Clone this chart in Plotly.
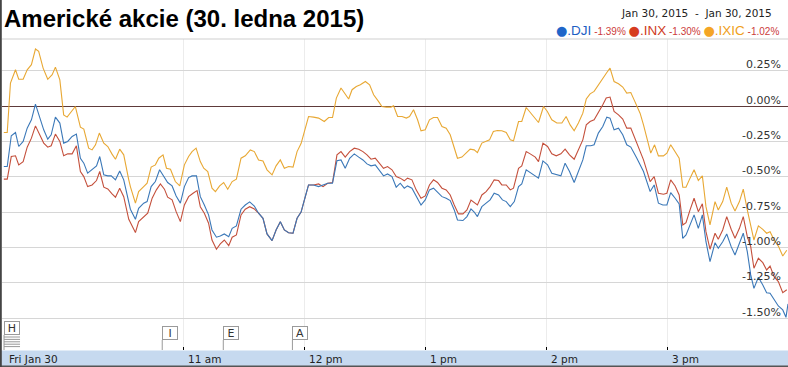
import plotly.graph_objects as go

# ---------------- data (minutes after 9:30 open, % change) ----------------
t_dji = [0.9, 2.6, 4.6, 6.7, 8.3, 10.5, 12.5, 14.6, 16.6, 18.2,
         20.7, 22.7, 24.4, 26.5, 28.7, 30.6, 32.6, 34.8, 36.9, 38.9,
         40.6, 42.5, 44.7, 46.9, 48.5, 50.5, 52.5, 54.2, 56.3, 58.4,
         60.4, 62.9, 63.7, 66.2, 67.8, 70.3, 72.0, 74.0, 76.1, 78.2,
         80.2, 82.2, 84.4, 86.4, 88.5, 90.5, 92.6, 94.3, 96.5, 98.4,
         100.4, 102.5, 104.2, 106.4, 108.3, 110.3, 112.5, 114.2, 116.3, 118.6,
         120.7, 122.9, 125.2, 127.3, 129.5, 131.5, 134.0, 136.0, 138.1, 140.1,
         142.2, 144.4, 146.4, 148.4, 150.5, 152.1, 154.6, 157.1, 159.3, 161.6,
         164.0, 166.2, 168.2, 170.3, 172.5, 174.8, 177.0, 179.1, 181.1, 183.1,
         185.2, 187.3, 189.3, 191.3, 193.5, 195.6, 197.6, 199.6, 201.2, 203.4,
         205.5, 207.9, 210.0, 212.1, 214.1, 216.1, 218.3, 220.4, 222.4, 224.4,
         226.0, 228.7, 230.7, 232.7, 234.3, 235.9, 238.1, 240.2, 242.2, 244.2,
         246.4, 248.3, 250.2, 252.2, 254.2, 256.3, 257.9, 260.1, 262.1, 264.1,
         266.2, 268.4, 270.7, 272.8, 275.0, 277.3, 279.4, 281.6, 283.9, 286.0,
         288.2, 289.9, 292.2, 293.8, 295.9, 298.1, 300.1, 301.7, 303.7, 305.9,
         308.0, 310.0, 312.0, 315.0, 318.3, 321.6, 323.6, 325.7, 327.9, 329.9,
         331.8, 334.0, 336.0, 337.8, 339.4, 341.4, 343.4, 345.5, 347.5, 349.3,
         351.3, 353.8, 355.4, 357.6, 359.6, 361.8, 363.7, 365.9, 367.8, 369.8,
         371.5, 373.1, 375.3, 377.5, 379.4, 381.1, 383.1, 385.2, 387.4, 389.0,
         390.0]
v_dji = [-0.428, -0.428, -0.21, -0.187, -0.286, -0.25, -0.156, -0.097, 0.014, -0.055,
         -0.168, -0.234, -0.203, -0.078, -0.12, -0.262, -0.25, -0.215, -0.198, -0.369,
         -0.404, -0.475, -0.451, -0.423, -0.357, -0.487, -0.494, -0.494, -0.522, -0.459,
         -0.522, -0.7, -0.73, -0.801, -0.723, -0.687, -0.676, -0.57, -0.534, -0.451,
         -0.494, -0.541, -0.565, -0.636, -0.687, -0.57, -0.506, -0.494, -0.494, -0.641,
         -0.7, -0.77, -0.877, -0.928, -0.919, -0.905, -0.924, -0.865, -0.848, -0.73,
         -0.7, -0.678, -0.707, -0.758, -0.794, -0.905, -0.952, -0.877, -0.818, -0.877,
         -0.896, -0.9, -0.794, -0.75, -0.64, -0.558, -0.558, -0.57, -0.558, -0.546,
         -0.546, -0.386, -0.381, -0.44, -0.369, -0.338, -0.361, -0.381, -0.409, -0.423,
         -0.416, -0.456, -0.494, -0.48, -0.499, -0.574, -0.546, -0.581, -0.565, -0.581,
         -0.636, -0.7, -0.664, -0.593, -0.581, -0.612, -0.641, -0.652, -0.669, -0.735,
         -0.806, -0.81, -0.782, -0.728, -0.75, -0.782, -0.712, -0.687, -0.664, -0.617,
         -0.629, -0.664, -0.676, -0.712, -0.676, -0.57, -0.551, -0.451, -0.47, -0.487,
         -0.51, -0.388, -0.416, -0.475, -0.487, -0.494, -0.404, -0.463, -0.541, -0.463,
         -0.381, -0.281, -0.281, -0.274, -0.191, -0.145, -0.078, -0.085, -0.168, -0.156,
         -0.203, -0.274, -0.29, -0.369, -0.463, -0.605, -0.558, -0.687, -0.7, -0.7,
         -0.612, -0.652, -0.692, -0.936, -0.912, -0.841, -0.77, -0.865, -0.77, -0.96,
         -1.101, -0.967, -1.006, -0.96, -0.905, -0.995, -1.054, -0.971, -0.9, -1.03,
         -1.195, -1.29, -1.212, -1.267, -1.321, -1.325, -1.373, -1.415, -1.443, -1.495,
         -1.40]

t_inx = [0.9, 2.6, 4.6, 6.7, 8.3, 10.5, 12.5, 14.6, 16.6, 18.7,
         20.7, 22.7, 24.4, 26.5, 28.7, 30.6, 32.6, 34.8, 36.9, 38.9,
         40.6, 42.5, 44.7, 46.9, 48.5, 50.5, 52.5, 54.6, 56.3, 58.4,
         60.4, 62.9, 63.7, 66.2, 67.8, 70.3, 72.3, 74.5, 76.6, 78.6,
         80.6, 82.2, 84.4, 86.4, 88.5, 90.5, 92.6, 94.8, 96.8, 98.4,
         100.4, 102.5, 104.2, 106.4, 108.3, 110.3, 112.5, 114.2, 116.3, 118.6,
         120.7, 122.9, 125.2, 127.3, 129.5, 131.5, 134.0, 136.0, 138.1, 140.1,
         142.2, 144.4, 146.4, 148.4, 150.5, 152.1, 154.6, 157.1, 159.3, 161.6,
         164.0, 166.2, 168.2, 170.3, 172.5, 174.8, 177.0, 179.1, 181.1, 183.1,
         185.2, 187.3, 189.3, 191.3, 193.5, 195.6, 197.6, 199.6, 201.2, 203.4,
         205.5, 207.9, 210.0, 212.1, 214.1, 216.1, 218.3, 220.4, 222.4, 224.4,
         226.5, 228.7, 230.7, 232.7, 234.8, 235.9, 238.1, 240.2, 242.2, 244.2,
         246.4, 248.0, 250.2, 252.2, 253.8, 256.3, 257.9, 260.1, 262.1, 264.6,
         266.2, 268.4, 270.7, 272.8, 275.0, 277.3, 279.4, 281.6, 283.9, 286.0,
         288.2, 289.9, 291.8, 293.8, 295.9, 298.1, 299.8, 301.7, 303.7, 305.9,
         308.0, 310.0, 312.0, 315.0, 318.3, 321.6, 323.6, 325.7, 328.2, 329.9,
         331.8, 334.0, 336.0, 337.8, 339.4, 341.4, 343.4, 345.5, 347.5, 349.3,
         351.3, 353.8, 355.4, 357.6, 359.6, 361.8, 363.7, 365.9, 367.8, 369.8,
         371.5, 373.1, 375.3, 377.5, 379.4, 381.1, 383.1, 385.2, 387.4, 389.4]
v_inx = [-0.517, -0.517, -0.357, -0.352, -0.416, -0.393, -0.291, -0.227, -0.14, -0.203,
         -0.262, -0.291, -0.281, -0.198, -0.25, -0.352, -0.338, -0.338, -0.281, -0.463,
         -0.499, -0.57, -0.558, -0.527, -0.463, -0.574, -0.586, -0.622, -0.645, -0.581,
         -0.641, -0.801, -0.825, -0.895, -0.818, -0.782, -0.758, -0.652, -0.593, -0.551,
         -0.588, -0.645, -0.664, -0.747, -0.818, -0.7, -0.641, -0.617, -0.598, -0.712,
         -0.758, -0.829, -0.948, -1.013, -0.976, -0.948, -0.988, -0.928, -0.912, -0.77,
         -0.73, -0.712, -0.728, -0.758, -0.794, -0.905, -0.952, -0.877, -0.818, -0.877,
         -0.896, -0.9, -0.794, -0.75, -0.64, -0.558, -0.558, -0.551, -0.57, -0.546,
         -0.541, -0.345, -0.322, -0.361, -0.322, -0.298, -0.305, -0.322, -0.345, -0.376,
         -0.369, -0.404, -0.44, -0.428, -0.451, -0.499, -0.51, -0.529, -0.51, -0.522,
         -0.593, -0.652, -0.636, -0.558, -0.522, -0.541, -0.581, -0.593, -0.629, -0.7,
         -0.763, -0.763, -0.735, -0.665, -0.69, -0.7, -0.629, -0.605, -0.57, -0.522,
         -0.527, -0.558, -0.558, -0.593, -0.581, -0.44, -0.423, -0.322, -0.338, -0.361,
         -0.393, -0.262, -0.286, -0.338, -0.352, -0.338, -0.305, -0.345, -0.376, -0.31,
         -0.239, -0.133, -0.109, -0.097, -0.05, 0.009, 0.057, 0.064, -0.038, -0.062,
         -0.092, -0.156, -0.156, -0.262, -0.381, -0.534, -0.499, -0.617, -0.624, -0.617,
         -0.522, -0.565, -0.629, -0.841, -0.825, -0.735, -0.652, -0.747, -0.692, -0.889,
         -1.013, -0.9, -0.943, -0.877, -0.782, -0.872, -0.936, -0.865, -0.782, -0.924,
         -0.995, -1.148, -1.077, -1.108, -1.16, -1.132, -1.207, -1.242, -1.321, -1.30]

t_ixic = [0.9, 2.6, 4.2, 6.7, 8.3, 10.5, 12.5, 14.6, 16.6, 18.2,
          20.4, 22.7, 24.9, 26.5, 28.7, 30.6, 32.3, 34.3, 36.4, 38.9,
          40.6, 43.0, 44.7, 46.4, 48.3, 50.5, 52.5, 54.6, 56.3, 58.4,
          60.4, 62.9, 63.7, 66.2, 67.8, 70.3, 72.0, 74.0, 76.1, 77.8,
          79.9, 81.6, 83.6, 86.0, 88.2, 90.5, 92.6, 94.3, 96.3, 98.4,
          100.1, 102.1, 104.2, 105.9, 108.0, 110.0, 112.0, 114.2, 116.3, 118.6,
          120.7, 123.2, 125.2, 127.3, 129.5, 131.5, 134.0, 136.0, 138.1, 140.1,
          142.2, 144.4, 146.4, 148.4, 150.5, 152.1, 154.6, 157.1, 159.9, 162.1,
          164.0, 165.9, 168.2, 170.0, 172.0, 173.7, 175.8, 177.8, 180.3, 182.4,
          184.4, 186.8, 188.5, 190.7, 193.0, 194.3, 196.3, 198.5, 200.6, 202.2,
          204.2, 206.2, 207.9, 210.0, 212.1, 214.1, 216.1, 218.3, 220.4, 222.4,
          224.0, 226.0, 228.2, 230.3, 232.3, 234.3, 235.9, 238.1, 240.2, 241.9,
          243.8, 245.8, 248.0, 250.2, 252.2, 253.8, 256.3, 257.9, 260.1, 262.1,
          264.1, 266.2, 268.7, 270.6, 272.8, 275.3, 277.8, 279.9, 281.9, 283.9,
          286.0, 288.2, 289.9, 291.8, 293.8, 295.9, 298.1, 300.1, 301.7, 303.7,
          305.9, 308.0, 310.0, 312.0, 314.1, 316.6, 318.3, 319.6, 321.9, 323.8,
          325.7, 328.2, 329.9, 331.8, 334.0, 336.0, 337.8, 339.4, 341.4, 343.4,
          345.5, 347.5, 349.3, 351.3, 353.8, 355.4, 357.6, 359.6, 361.8, 363.7,
          365.9, 367.8, 369.8, 371.2, 373.1, 375.3, 377.5, 379.4, 381.1, 383.1,
          385.2, 387.4, 389.4]
v_ixic = [-0.187, -0.187, 0.163, 0.257, 0.19, 0.19, 0.257, 0.293, 0.404, 0.387,
          0.269, 0.19, 0.222, 0.276, 0.186, -0.062, -0.078, -0.045, -0.003, -0.149,
          -0.163, -0.298, -0.31, -0.274, -0.191, -0.262, -0.286, -0.34, -0.376, -0.305,
          -0.345, -0.522, -0.57, -0.687, -0.605, -0.57, -0.546, -0.432, -0.416, -0.369,
          -0.345, -0.44, -0.447, -0.534, -0.565, -0.416, -0.357, -0.322, -0.298, -0.393,
          -0.44, -0.463, -0.581, -0.605, -0.565, -0.541, -0.588, -0.534, -0.517, -0.369,
          -0.352, -0.31, -0.322, -0.381, -0.388, -0.451, -0.487, -0.423, -0.381, -0.44,
          -0.428, -0.432, -0.322, -0.265, -0.16, -0.074, -0.078, -0.085, -0.109, -0.081,
          -0.081, 0.057, 0.128, 0.092, 0.05, 0.116, 0.139, 0.151, 0.174, 0.151,
          0.08, 0.033, -0.003, -0.007, -0.007, 0.002, -0.074, -0.074, -0.085, -0.074,
          -0.026, -0.097, -0.175, -0.168, -0.097, -0.081, -0.081, -0.145, -0.156, -0.203,
          -0.274, -0.369, -0.361, -0.329, -0.305, -0.31, -0.329, -0.262, -0.25, -0.239,
          -0.18, -0.173, -0.175, -0.187, -0.239, -0.246, -0.109, -0.109, -0.01, -0.045,
          -0.074, -0.116, -0.003, -0.038, -0.097, -0.12, -0.12, -0.074, -0.133, -0.175,
          -0.12, -0.05, 0.05, 0.087, 0.104, 0.151, 0.198, 0.238, 0.269, 0.174,
          0.158, 0.135, 0.092, 0.096, 0.03, -0.05, -0.133, -0.2, -0.333, -0.274,
          -0.352, -0.352, -0.333, -0.274, -0.322, -0.369, -0.574, -0.574, -0.51, -0.451,
          -0.527, -0.494, -0.712, -0.841, -0.676, -0.735, -0.676, -0.574, -0.687, -0.742,
          -0.676, -0.588, -0.735, -0.818, -0.948, -0.848, -0.872, -0.9, -0.889, -0.948,
          -0.991, -1.061, -1.02]

series_names = [".DJI", ".INX", ".IXIC"]
series_changes = ["-1.39%", "-1.30%", "-1.02%"]
date_range_text = "Jan 30, 2015\u00a0\u00a0-\u00a0\u00a0Jan 30, 2015"
title_text = "Americké akcie (30. ledna 2015)"

y_ticks = [0.25, 0.0, -0.25, -0.5, -0.75, -1.0, -1.25, -1.5]
y_tick_labels = ["0.25%", "0.00%", "-0.25%", "-0.50%", "-0.75%", "-1.00%", "-1.25%", "-1.50%"]
x_label_pos = [0, 90, 150, 210, 270, 330]
x_labels = ["Fri Jan 30", "11 am", "12 pm", "1 pm", "2 pm", "3 pm"]
x_ticks = [90, 150, 210, 270, 330]

event_letters = ["H", "I", "E", "A"]
event_times = [1.0, 79.5, 109.8, 144.1]

# ---------------- style ----------------
W, H = 788, 367
ML, MR, MT, MB = 2, 0, 39, 17
PW, PH = W - ML - MR, H - MT - MB
X_RANGE = [0, 390]
Y_RANGE = [-1.7265, 0.475]
line_colors = ["#3b78b8", "#c4503c", "#e8a834"]
dot_colors = ["#1f66c9", "#d63c1f", "#f4a526"]
name_colors = ["#1d5fc4", "#cf3b1d", "#f0a020"]
pct_color = "#cc3b3b"
FONT_V = "DejaVu Sans, Verdana, sans-serif"
FONT_A = "Liberation Sans, Arial, sans-serif"


def px_to_paper_y(py):
    return (H - MB - py) / PH


def px_to_paper_x(px):
    return (px - ML) / PW


fig = go.Figure()
for t, v, c, n in [(t_ixic, v_ixic, line_colors[2], series_names[2]),
                   (t_inx, v_inx, line_colors[1], series_names[1]),
                   (t_dji, v_dji, line_colors[0], series_names[0])]:
    fig.add_trace(go.Scatter(x=t, y=v, mode="lines", name=n,
                             line=dict(color=c, width=1.1), hoverinfo="skip"))

annotations = []
shapes = []

# title
annotations.append(dict(text="<b>" + title_text + "</b>", xref="paper", yref="paper",
                        x=px_to_paper_x(2), y=px_to_paper_y(18.6),
                        xanchor="left", yanchor="middle", showarrow=False,
                        font=dict(family=FONT_A, size=24, color="#000")))

# date range
annotations.append(dict(text=date_range_text, xref="paper", yref="paper",
                        x=px_to_paper_x(774), y=px_to_paper_y(13.3),
                        xanchor="right", yanchor="middle", showarrow=False,
                        font=dict(family=FONT_V, size=10.5, color="#222")))

# legend line
parts = []
for n, ch, dc, nc in zip(series_names, series_changes, dot_colors, name_colors):
    parts.append('<span style="font-family:DejaVu Sans;color:%s;font-size:13px">●</span>'
                 '<span style="color:%s;font-size:13.5px">%s</span>'
                 '<span style="color:%s;font-size:10px">\u00a0%s\u00a0</span>' % (dc, nc, n, pct_color, ch))
annotations.append(dict(text="".join(parts), xref="paper", yref="paper",
                        x=px_to_paper_x(784), y=px_to_paper_y(30),
                        xanchor="right", yanchor="middle", showarrow=False,
                        font=dict(family=FONT_A, size=12, color="#222")))

# y tick labels (inside, right, above gridline)
for v, lab in zip(y_ticks, y_tick_labels):
    annotations.append(dict(text=lab, xref="paper", yref="y", x=1, y=v,
                            xanchor="right", yanchor="middle", xshift=-5, yshift=6,
                            showarrow=False,
                            font=dict(family=FONT_V, size=11, color="#333")))

# x labels in band
for xv, lab in zip(x_label_pos, x_labels):
    annotations.append(dict(text=lab, xref="x", yref="paper", x=xv,
                            y=px_to_paper_y(359), xanchor="left", yanchor="middle",
                            xshift=5 if xv == 0 else 3, showarrow=False,
                            font=dict(family=FONT_V, size=10.5, color="#222")))

# band & frame
shapes.append(dict(type="rect", xref="paper", yref="paper",
                   x0=px_to_paper_x(0), x1=px_to_paper_x(W), y0=px_to_paper_y(H),
                   y1=px_to_paper_y(350.5), fillcolor="#c6d9ef", line=dict(width=0),
                   layer="below"))
shapes.append(dict(type="line", xref="paper", yref="paper",
                   x0=px_to_paper_x(0), x1=px_to_paper_x(W), y0=px_to_paper_y(366.3),
                   y1=px_to_paper_y(366.3), line=dict(color="#555", width=1.5)))
shapes.append(dict(type="line", xref="paper", yref="paper",
                   x0=px_to_paper_x(ML), x1=px_to_paper_x(W), y0=1, y1=1,
                   line=dict(color="#cfcfcf", width=1)))
shapes.append(dict(type="line", xref="paper", yref="paper",
                   x0=px_to_paper_x(0.9), x1=px_to_paper_x(0.9), y0=px_to_paper_y(H),
                   y1=px_to_paper_y(0), line=dict(color="#444", width=1.8)))

# event flags
FLAG_W_MIN = 16 * (X_RANGE[1] - X_RANGE[0]) / PW
for letter, te in zip(event_letters, event_times):
    if letter == "H":
        box_bottom = px_to_paper_y(335)
        for k in range(5):
            yy = px_to_paper_y(337 + k * 2.4)
            shapes.append(dict(type="line", xref="x", yref="paper", x0=te, x1=te + FLAG_W_MIN,
                               y0=yy, y1=yy, line=dict(color="#999", width=1)))
    else:
        box_bottom = px_to_paper_y(340)
    shapes.append(dict(type="line", xref="x", yref="paper", x0=te, x1=te,
                       y0=0, y1=box_bottom, line=dict(color="#999", width=1)))
    annotations.append(dict(text=letter, xref="x", yref="paper", x=te, y=box_bottom,
                            xanchor="left", yanchor="bottom", showarrow=False,
                            width=12, height=10, borderpad=1, borderwidth=1,
                            bordercolor="#9a9a9a", bgcolor="#ffffff", align="center",
                            font=dict(family=FONT_V, size=11, color="#333")))

fig.update_layout(
    width=W, height=H,
    margin=dict(l=ML, r=MR, t=MT, b=MB, pad=0),
    paper_bgcolor="#ffffff", plot_bgcolor="#ffffff",
    showlegend=False, hovermode=False,
    xaxis=dict(range=X_RANGE, tickvals=x_ticks, showticklabels=False,
               ticks="inside", ticklen=3, tickcolor="#000", tickwidth=1,
               showgrid=True, gridcolor="#ececec", gridwidth=1,
               zeroline=False, showline=False, fixedrange=True),
    yaxis=dict(range=Y_RANGE, tickvals=y_ticks, showticklabels=False,
               showgrid=True, gridcolor="#d6d6d6", gridwidth=1,
               zeroline=True, zerolinecolor="#5e3a3a", zerolinewidth=1,
               showline=False, fixedrange=True),
    annotations=annotations, shapes=shapes,
)

fig.write_html("out.html", config={"displayModeBar": False},
               post_script="document.body.style.margin='0';document.body.style.overflow='hidden';")
